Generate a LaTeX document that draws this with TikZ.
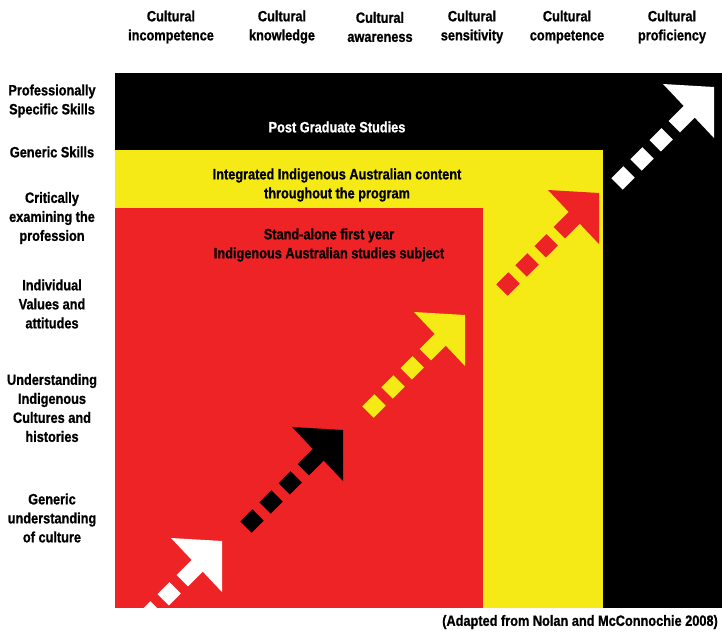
\documentclass[tikz,border=0pt]{standalone}
\usepackage{fontspec}
\setmainfont{Liberation Sans}[FakeStretch=0.85, BoldFeatures={FakeBold=0.8}]
\definecolor{ared}{HTML}{EE2326}
\definecolor{ayel}{HTML}{F5E916}
\newcommand\myarrow[3]{%
  \begin{scope}[shift={(#1,#2)}]
    \fill[#3] (0,0) -- (-51,-3) -- (0,51) -- cycle;
    \draw[#3, line width=16pt, dash pattern=on 17pt off 10pt on 17pt off 10pt on 17pt off 10pt on 200pt] (-97,97) -- (-22,22);
  \end{scope}}
\begin{document}
\begin{tikzpicture}[x=1pt,y=-1pt,
  lbl/.style={align=center, font=\fontsize{15}{19}\selectfont\bfseries, inner sep=0pt}]
\useasboundingbox (0,0) rectangle (722,633);
\fill[white] (0,0) rectangle (722,633);
% bands
\fill[black] (115,73) rectangle (722,608);
\fill[ayel] (115,150) rectangle (603,608);
\fill[ared] (115,208) rectangle (483,608);
% arrows
\begin{scope}
  \clip (115,73) rectangle (722,608);
  \myarrow{222}{541}{white}
  \myarrow{343}{430}{black}
  \myarrow{465}{315}{ayel}
  \myarrow{599}{193}{ared}
  \myarrow{714}{87}{white}
\end{scope}
% top labels
\node[lbl] (c1) at (171,27) {Cultural\\incompetence};
\node[lbl] (c2) at (282,27) {Cultural\\knowledge};
\node[lbl] (c3) at (380,27) {Cultural\\awareness};
\node[lbl] (c4) at (472,27) {Cultural\\sensitivity};
\node[lbl] (c5) at (567,27) {Cultural\\competence};
\node[lbl] (c6) at (672,27) {Cultural\\proficiency};
% left labels
\node[lbl] (r1) at (52,101) {Professionally\\Specific Skills};
\node[lbl] (r2) at (52,152) {Generic Skills};
\node[lbl] (r3) at (52,218) {Critically\\examining the\\profession};
\node[lbl] (r4) at (52,304) {Individual\\Values and\\attitudes};
\node[lbl] (r5) at (52,408) {Understanding\\Indigenous\\Cultures and\\histories};
\node[lbl] (r6) at (52,518) {Generic\\understanding\\of culture};
% inner labels
\node[lbl, text=white] (pg) at (337,127) {Post Graduate Studies};
\node[lbl] (ig) at (337,185) {Integrated Indigenous Australian content\\throughout the program};
\node[lbl] (sa) at (329,245) {Stand-alone first year\\Indigenous Australian studies subject};
\node[lbl, anchor=east] (src) at (718,622) {(Adapted from Nolan and McConnochie 2008)};
\end{tikzpicture}
\end{document}
